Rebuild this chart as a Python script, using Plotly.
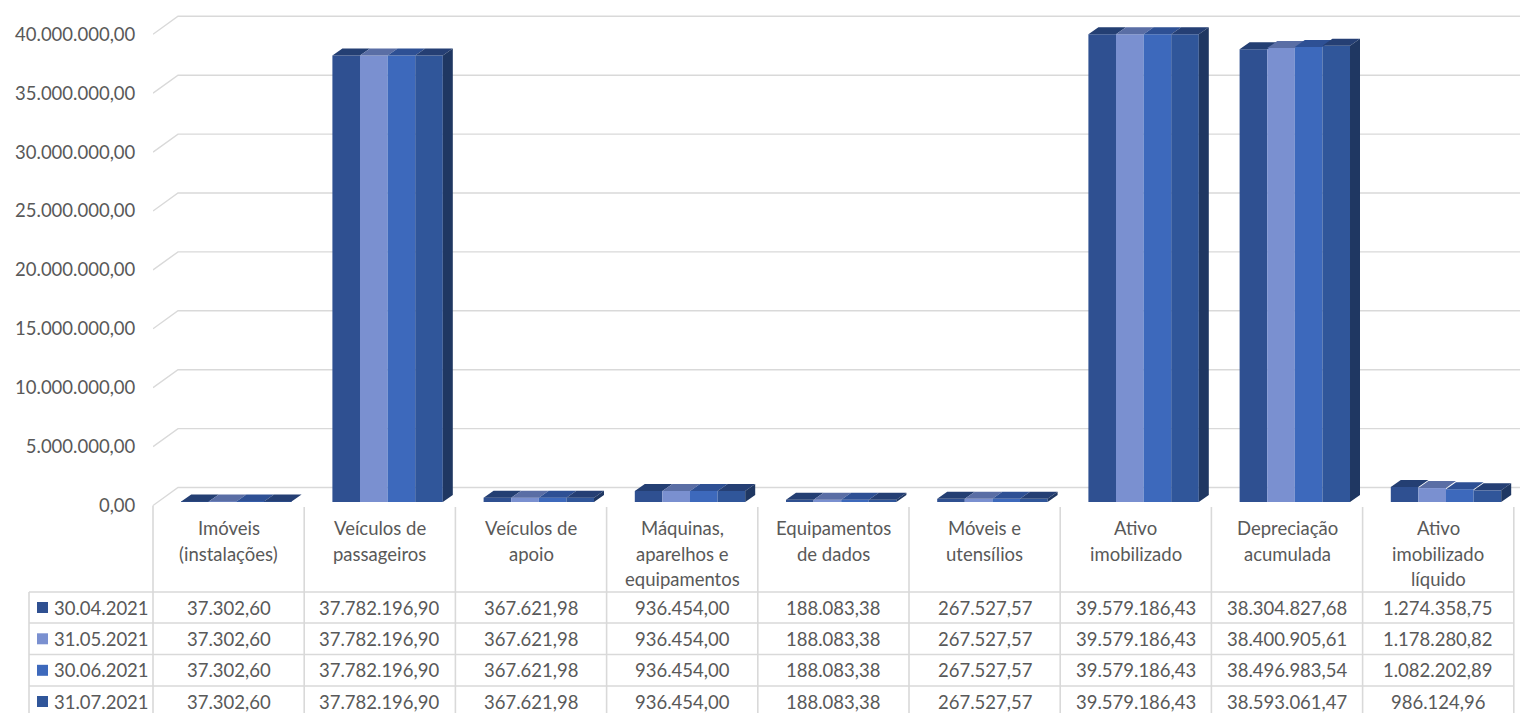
import plotly.graph_objects as go

# ---------------- data ----------------
categories = ["Imóveis (instalações)", "Veículos de passageiros", "Veículos de apoio",
              "Máquinas, aparelhos e equipamentos", "Equipamentos de dados",
              "Móveis e utensílios", "Ativo imobilizado", "Depreciação acumulada",
              "Ativo imobilizado líquido"]
category_lines = [["Imóveis", "(instalações)"], ["Veículos de", "passageiros"],
                  ["Veículos de", "apoio"], ["Máquinas,", "aparelhos e", "equipamentos"],
                  ["Equipamentos", "de dados"], ["Móveis e", "utensílios"],
                  ["Ativo", "imobilizado"], ["Depreciação", "acumulada"],
                  ["Ativo", "imobilizado", "líquido"]]
series_names = ["30.04.2021", "31.05.2021", "30.06.2021", "31.07.2021"]
values_apr = [37302.60, 37782196.90, 367621.98, 936454.00, 188083.38, 267527.57,
              39579186.43, 38304827.68, 1274358.75]
values_may = [37302.60, 37782196.90, 367621.98, 936454.00, 188083.38, 267527.57,
              39579186.43, 38400905.61, 1178280.82]
values_jun = [37302.60, 37782196.90, 367621.98, 936454.00, 188083.38, 267527.57,
              39579186.43, 38496983.54, 1082202.89]
values_jul = [37302.60, 37782196.90, 367621.98, 936454.00, 188083.38, 267527.57,
              39579186.43, 38593061.47, 986124.96]
ytick_vals = [0, 5e6, 10e6, 15e6, 20e6, 25e6, 30e6, 35e6, 40e6]
ytick_text = ["0,00", "5.000.000,00", "10.000.000,00", "15.000.000,00", "20.000.000,00",
              "25.000.000,00", "30.000.000,00", "35.000.000,00", "40.000.000,00"]

series_values = [values_apr, values_may, values_jun, values_jul]
front_colors = ["#2F5091", "#7A90D0", "#3D69BC", "#30569A"]
top_colors = ["#243F73", "#5A6EA5", "#2E5094", "#253F74"]
side_color = "#1F3762"
grid_color = "#D9D9D9"
text_color = "#595959"
FONT = "Lato"
FS = 18.5

# ---------------- geometry (screen px; page body has an 8px margin) ----------------
OFF = 8
SCREEN_W, SCREEN_H = 1528, 713
W, H = SCREEN_W - OFF, SCREEN_H - OFF
L_s, T_s, Yb_s = 153, 10, 507          # plot area left / top / bottom in screen px
L, T, B = L_s - OFF, T_s - OFF, SCREEN_H - Yb_s
CAT_PX = 151.2
S1 = 11.78 / 1e6
Y0_front = 505.5
S2 = 11.82 / 1e6
Y0_bar = 502.0
xr = [-0.5, -0.5 + (SCREEN_W - L_s) / CAT_PX]
yr1 = [(Y0_front - Yb_s) / S1, (Y0_front - T_s) / S1]
yr2 = [(Y0_bar - Yb_s) / S2, (Y0_bar - T_s) / S2]

bar_w = 27.6 / CAT_PX
first_off = -47.4 / CAT_PX
dx = 10.0 / CAT_PX
dy = 7.0 / S2
grid_dx = 25.0 / CAT_PX
grid_dy = 18.0 / S1


def fmt(v):
    s = f"{v:,.2f}"
    return s.replace(",", "X").replace(".", ",").replace("X", ".")


def pxx(X):
    return (X - L_s) / (SCREEN_W - L_s)


def pxy(Y):
    return (Yb_s - Y) / (Yb_s - T_s)


fig = go.Figure()
xs = list(range(len(categories)))

for s, vals in enumerate(series_values):
    fig.add_trace(go.Bar(x=xs, y=vals, width=bar_w, offset=first_off + s * bar_w,
                         marker=dict(color=front_colors[s], line=dict(width=0)),
                         yaxis="y2", name=series_names[s], showlegend=False,
                         hoverinfo="skip"))

for s, vals in enumerate(series_values):
    px_, py_ = [], []
    for i, v in enumerate(vals):
        x0 = i + first_off + s * bar_w
        x1 = x0 + bar_w
        px_ += [x0, x1, x1 + dx, x0 + dx, x0, None]
        py_ += [v, v, v + dy, v + dy, v, None]
    fig.add_trace(go.Scatter(x=px_, y=py_, fill="toself", fillcolor=top_colors[s],
                             mode="lines", line=dict(width=0), yaxis="y2",
                             showlegend=False, hoverinfo="skip"))

px_, py_ = [], []
last = series_values[-1]
for i, v in enumerate(last):
    x1 = i + first_off + len(series_values) * bar_w
    px_ += [x1, x1 + dx, x1 + dx, x1, x1, None]
    py_ += [0, dy, v + dy, v, 0, None]
fig.add_trace(go.Scatter(x=px_, y=py_, fill="toself", fillcolor=side_color,
                         mode="lines", line=dict(width=0), yaxis="y2",
                         showlegend=False, hoverinfo="skip"))

shapes = []
for v in ytick_vals:
    path = (f"M {xr[0]},{v} L {xr[0] + grid_dx},{v + grid_dy} "
            f"L {xr[1]},{v + grid_dy}")
    shapes.append(dict(type="path", path=path, xref="x", yref="y", layer="below",
                       line=dict(color=grid_color, width=1.4)))

for k in range(len(categories) + 1):
    X = L_s + k * CAT_PX
    ytop = Y0_front if k == 0 else 507
    shapes.append(dict(type="line", xref="paper", yref="paper",
                       x0=pxx(X), x1=pxx(X), y0=pxy(ytop), y1=pxy(SCREEN_H + 5),
                       line=dict(color=grid_color, width=1.6)))
row_lines = [592, 623, 654.5, 686]
for Y in row_lines:
    shapes.append(dict(type="line", xref="paper", yref="paper",
                       x0=pxx(29), x1=pxx(L_s + len(categories) * CAT_PX),
                       y0=pxy(Y), y1=pxy(Y), line=dict(color=grid_color, width=1.6)))
shapes.append(dict(type="line", xref="paper", yref="paper",
                   x0=pxx(29), x1=pxx(29), y0=pxy(592), y1=pxy(SCREEN_H + 5),
                   line=dict(color=grid_color, width=1.6)))

annotations = []
for i, lines in enumerate(category_lines):
    Xc = L_s + (i + 0.5) * CAT_PX
    for j, t in enumerate(lines):
        annotations.append(dict(text=t, xref="paper", yref="paper", x=pxx(Xc),
                                y=pxy(528 + 25.5 * j), xanchor="center", yanchor="middle",
                                showarrow=False, font=dict(family=FONT, size=FS, color=text_color)))

row_centers = [607.5, 638.8, 670.3, 701.5]
for s, vals in enumerate(series_values):
    Yc = row_centers[s]
    shapes.append(dict(type="rect", xref="paper", yref="paper",
                       x0=pxx(37), x1=pxx(48), y0=pxy(Yc - 5.5), y1=pxy(Yc + 5.5),
                       fillcolor=front_colors[s], line=dict(width=0)))
    annotations.append(dict(text=series_names[s], xref="paper", yref="paper", x=pxx(52),
                            y=pxy(Yc), xanchor="left", yanchor="middle", showarrow=False,
                            font=dict(family=FONT, size=FS, color=text_color)))
    for i, v in enumerate(vals):
        Xc = L_s + (i + 0.5) * CAT_PX
        annotations.append(dict(text=fmt(v), xref="paper", yref="paper", x=pxx(Xc),
                                y=pxy(Yc), xanchor="center", yanchor="middle",
                                showarrow=False,
                                font=dict(family=FONT, size=FS, color=text_color)))

fig.update_layout(
    width=W, height=H,
    margin=dict(l=L, r=0, t=T, b=B, pad=0),
    paper_bgcolor="white", plot_bgcolor="white",
    barmode="overlay",
    showlegend=False,
    xaxis=dict(range=xr, showticklabels=False, showgrid=False, zeroline=False,
               showline=False, ticks="", fixedrange=True),
    yaxis=dict(range=yr1, tickvals=ytick_vals, ticktext=ytick_text, showgrid=False,
               zeroline=False, showline=False, ticks="outside", ticklen=13,
               tickcolor="rgba(0,0,0,0)",
               tickfont=dict(family=FONT, size=FS, color=text_color)),
    yaxis2=dict(range=yr2, overlaying="y", visible=False, showgrid=False, zeroline=False),
    shapes=shapes,
    annotations=annotations,
)

fig.write_html("out.html")
